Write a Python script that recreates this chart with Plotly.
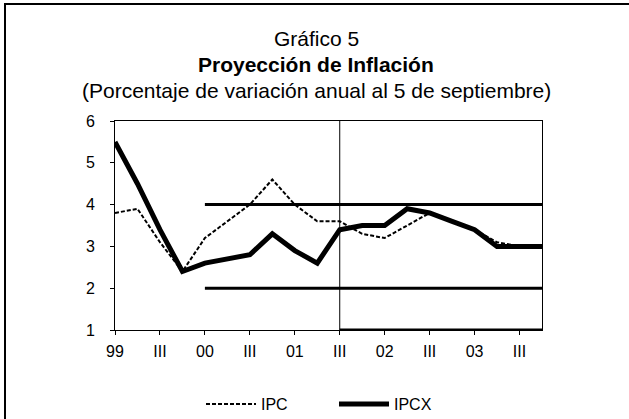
import plotly.graph_objects as go

quarters = ["99Q1", "99Q2", "99Q3", "99Q4", "00Q1", "00Q2", "00Q3", "00Q4",
            "01Q1", "01Q2", "01Q3", "01Q4", "02Q1", "02Q2", "02Q3", "02Q4",
            "03Q1", "03Q2", "03Q3", "03Q4"]
ipc = [3.8, 3.9, 3.1, 2.4, 3.2, 3.6, 4.0, 4.6, 4.0, 3.6, 3.6, 3.3,
       3.2, 3.5, 3.8, 3.6, 3.4, 3.1, 3.0, 3.0]
ipcx = [5.5, 4.5, 3.4, 2.4, 2.6, 2.7, 2.8, 3.3, 2.9, 2.6, 3.4, 3.5,
        3.5, 3.9, 3.8, 3.6, 3.4, 3.0, 3.0, 3.0]
band_x = quarters[4:]
band_upper = [4.0] * len(band_x)
band_lower = [2.0] * len(band_x)
proj_start = "01Q3"
tick_vals = quarters[0::2]
tick_text = ["99", "III", "00", "III", "01", "III", "02", "III", "03", "III"]

FONT = "Liberation Sans, Arial, sans-serif"
L, R, T, B = 115, 542, 121, 330
W, H = 629, 419

def px(x):
    return (x - L) / (R - L)

def py(y):
    return (B - y) / (B - T)

fig = go.Figure()
fig.add_trace(go.Scatter(x=band_x, y=band_upper, mode="lines",
                         line=dict(color="black", width=3), showlegend=False))
fig.add_trace(go.Scatter(x=band_x, y=band_lower, mode="lines",
                         line=dict(color="black", width=3), showlegend=False))
fig.add_trace(go.Scatter(x=quarters, y=ipc, mode="lines", name="IPC",
                         line=dict(color="black", width=2, dash="4px,2px")))
fig.add_trace(go.Scatter(x=quarters, y=ipcx, mode="lines", name="IPCX",
                         line=dict(color="black", width=5)))

# projection marker: vertical line and thick base line
fig.add_shape(type="line", xref="x", yref="y", x0=proj_start, x1=proj_start,
              y0=1, y1=6, line=dict(color="black", width=1))
fig.add_shape(type="line", xref="x", yref="y", x0=proj_start, x1=quarters[-1],
              y0=1, y1=1, line=dict(color="black", width=3))

# outer frame
fig.add_shape(type="rect", xref="paper", yref="paper",
              x0=px(5), x1=px(660), y0=py(440), y1=py(4),
              line=dict(color="black", width=2), layer="below")

titles = [("Gráfico 5", 39, False), ("Proyección de Inflación", 65, True),
          ("(Porcentaje de variación anual al 5 de septiembre)", 91, False)]
for txt, yy, bold in titles:
    fig.add_annotation(text=f"<b>{txt}</b>" if bold else txt, xref="paper", yref="paper",
                       x=px(316), y=py(yy),
                       xanchor="center", yanchor="middle", showarrow=False,
                       font=dict(family=FONT, size=21, color="black"))

fig.update_xaxes(type="category", categoryorder="array", categoryarray=quarters,
                 range=[0, len(quarters) - 1], automargin=False,
                 tickmode="array", tickvals=tick_vals, ticktext=tick_text,
                 ticks="outside", ticklen=4, tickcolor="black",
                 ticklabelstandoff=3,
                 showline=True, linecolor="black", linewidth=1, mirror=True,
                 showgrid=False, zeroline=False,
                 tickfont=dict(family=FONT, size=16, color="black"))
fig.update_yaxes(range=[1, 6], tickvals=[1, 2, 3, 4, 5, 6], automargin=False,
                 ticks="outside", ticklen=4, tickcolor="black",
                 ticklabelstandoff=12,
                 showline=True, linecolor="black", linewidth=1, mirror=True,
                 showgrid=False, zeroline=False,
                 tickfont=dict(family=FONT, size=16, color="black"))

fig.update_layout(width=W, height=H,
                  margin=dict(l=L, r=W - R, t=T, b=H - B, autoexpand=False),
                  paper_bgcolor="white", plot_bgcolor="white",
                  font=dict(family=FONT, color="black"),
                  legend=dict(orientation="h", xref="container", yref="container",
                              x=201 / W, y=1 - 404 / H,
                              xanchor="left", yanchor="middle",
                              font=dict(family=FONT, size=16, color="black"),
                              itemwidth=50, entrywidth=68, entrywidthmode="pixels",
                              tracegroupgap=0))

fig.write_html("out.html", config={"displayModeBar": False},
               post_script="document.body.style.margin='0px';")
